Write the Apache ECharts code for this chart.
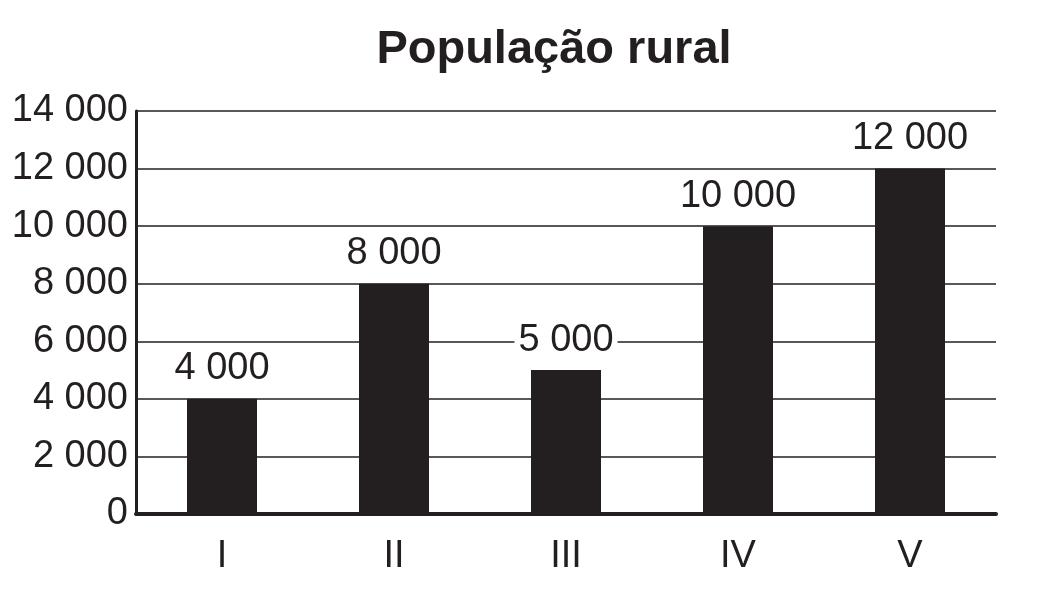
<!DOCTYPE html>
<html>
<head>
<meta charset="utf-8">
<script src="https://cdn.jsdelivr.net/npm/echarts@6/dist/echarts.min.js"></script>
<style>
html,body{margin:0;padding:0;background:#fff;}
#chart{width:1058px;height:595px;}
</style>
</head>
<body>
<div id="chart"></div>
<script>
const titleText = 'População rural';
const categories = ['I', 'II', 'III', 'IV', 'V'];
const populationValues = [4000, 8000, 5000, 10000, 12000];
const yMin = 0, yMax = 14000, yStep = 2000;

const ink = '#231f20';
const font = "'Liberation Sans', Arial, Helvetica, sans-serif";
const fmt = v => String(v).replace(/\B(?=(\d{3})+(?!\d))/g, ' ');

const chart = echarts.init(document.getElementById('chart'));
chart.setOption({
  backgroundColor: '#fff',
  animation: false,
  title: {
    text: titleText,
    left: 549,
    textAlign: 'center',
    top: 22,
    textStyle: { fontFamily: font, fontSize: 47, fontWeight: 'bold', color: ink, lineHeight: 47 }
  },
  grid: { left: 136, right: 62, top: 111, bottom: 81, containLabel: false },
  xAxis: {
    type: 'category',
    data: categories,
    axisLine: { lineStyle: { color: ink, width: 4 } },
    axisTick: { show: false },
    axisLabel: { fontFamily: font, fontSize: 38, color: ink, margin: 24 }
  },
  yAxis: {
    type: 'value',
    min: yMin, max: yMax, interval: yStep,
    axisLine: { show: true, lineStyle: { color: ink, width: 3 } },
    axisTick: { show: false },
    splitLine: { lineStyle: { color: ink, width: 1.5 } },
    axisLabel: { fontFamily: font, fontSize: 38, color: ink, margin: 8, formatter: fmt }
  },
  series: [{
    type: 'bar',
    data: populationValues,
    barWidth: 70,
    itemStyle: { color: ink },
    label: {
      show: true,
      position: 'top',
      distance: 11,
      fontFamily: font,
      fontSize: 38,
      color: ink,
      backgroundColor: '#fff',
      padding: [0, 4],
      formatter: p => fmt(p.value)
    }
  }]
});
</script>
</body>
</html>
